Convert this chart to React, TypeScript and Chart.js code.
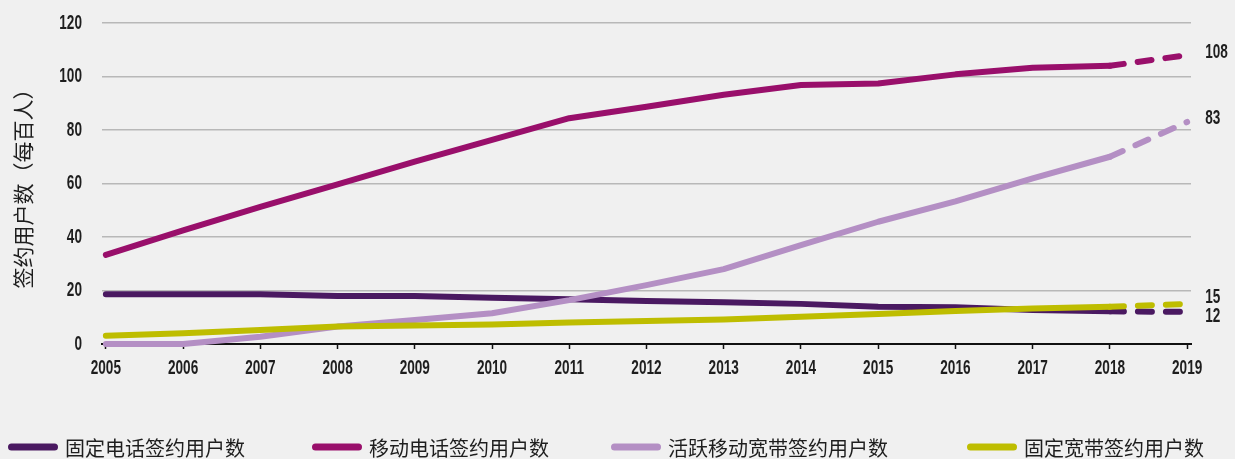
import React, { useEffect, useRef } from "react";
import { Chart, registerables } from "chart.js";

Chart.register(...registerables);

// Subscriptions per 100 inhabitants, 2005–2019 (2019 is an estimate, drawn dashed)
const years = [2005, 2006, 2007, 2008, 2009, 2010, 2011, 2012, 2013, 2014, 2015, 2016, 2017, 2018, 2019];
const fixedPhone = [18.6, 18.6, 18.6, 17.9, 17.9, 17.3, 16.7, 16.1, 15.6, 15.0, 13.9, 13.7, 12.7, 12.2, 12];
const mobilePhone = [33.3, 42.5, 51.3, 59.7, 68.2, 76.3, 84.4, 88.7, 93.2, 96.8, 97.4, 100.8, 103.3, 104, 108];
const mobileBroadband = [0, 0, 2.7, 6.5, 9.0, 11.5, 16.4, 22.0, 28.0, 37.0, 45.7, 53.3, 61.9, 70, 83];
const fixedBroadband = [3.1, 4.0, 5.2, 6.5, 6.9, 7.3, 8.0, 8.6, 9.2, 10.2, 11.2, 12.3, 13.3, 13.9, 15];

const seriesLabels = ["固定电话签约用户数", "移动电话签约用户数", "活跃移动宽带签约用户数", "固定宽带签约用户数"];
const seriesValues = [fixedPhone, mobilePhone, mobileBroadband, fixedBroadband];
const seriesColors = ["#4a1961", "#990f6b", "#b48fc4", "#bebd00"];
// lower number is painted later (on top)
const seriesOrder = [3, 2, 1, 0];

const yTickValues = [0, 20, 40, 60, 80, 100, 120];
const yAxisTitle = "签约用户数（每百人）";

// styling / placement
const NUM_FONT = "bold 20px 'Liberation Sans', Arial, sans-serif";
const SQUEEZE = 0.68; // horizontal compression for the condensed numerals
const CJK_FONT = "'Noto Sans CJK SC', 'Noto Sans', sans-serif";
const TEXT_COLOR = "#1e1e1e";
const endLabelDy = [5, -3, -3, -6];
const legendX = [8, 312, 611, 967];
const LEGEND_Y = 447;
const X_LABEL_Y = 368;
const Y_LABEL_RIGHT = 82;

function drawNumber(ctx: CanvasRenderingContext2D, text: string, x: number, y: number, align: CanvasTextAlign) {
  ctx.save();
  ctx.translate(x, y);
  ctx.scale(SQUEEZE, 1);
  ctx.font = NUM_FONT;
  ctx.fillStyle = TEXT_COLOR;
  ctx.textAlign = align;
  ctx.textBaseline = "middle";
  ctx.fillText(text, 0, 0);
  ctx.restore();
}

const backgroundPlugin = {
  id: "bg",
  beforeDraw(chart: any) {
    const { ctx, width, height } = chart;
    ctx.save();
    ctx.fillStyle = "#f0f0f0";
    ctx.fillRect(0, 0, width, height);
    ctx.restore();
  },
};

const numeralPlugin = {
  id: "numerals",
  afterDatasetsDraw(chart: any) {
    const { ctx } = chart;
    const xs = chart.scales.x;
    const ys = chart.scales.y;
    xs.ticks.forEach((t: any) => {
      drawNumber(ctx, String(t.value), xs.getPixelForValue(t.value), X_LABEL_Y, "center");
    });
    ys.ticks.forEach((t: any) => {
      drawNumber(ctx, String(t.value), Y_LABEL_RIGHT, ys.getPixelForValue(t.value), "right");
    });
    chart.data.datasets.forEach((ds: any, i: number) => {
      const meta = chart.getDatasetMeta(i);
      const last = meta.data[meta.data.length - 1];
      const value = ds.data[ds.data.length - 1].y;
      drawNumber(ctx, String(value), last.x + 18, last.y + endLabelDy[i], "left");
    });
  },
};

const legendPlugin = {
  id: "bottomLegend",
  afterDraw(chart: any) {
    const { ctx } = chart;
    ctx.save();
    ctx.textAlign = "left";
    ctx.textBaseline = "middle";
    ctx.font = `20px ${CJK_FONT}`;
    seriesLabels.forEach((label, i) => {
      const x0 = legendX[i];
      ctx.strokeStyle = seriesColors[i];
      ctx.lineWidth = 7;
      ctx.lineCap = "round";
      ctx.beginPath();
      ctx.moveTo(x0 + 3.5, LEGEND_Y);
      ctx.lineTo(x0 + 46.5, LEGEND_Y);
      ctx.stroke();
      ctx.fillStyle = TEXT_COLOR;
      ctx.fillText(label, x0 + 57, LEGEND_Y + 1);
    });
    ctx.restore();
  },
};

export default function App() {
  const canvasRef = useRef<HTMLCanvasElement | null>(null);

  useEffect(() => {
    const canvas = canvasRef.current;
    if (!canvas) return;
    const lastIdx = years.length - 1;

    const chart = new Chart(canvas, {
      type: "line",
      data: {
        datasets: seriesValues.map((vals, i) => ({
          label: seriesLabels[i],
          data: years.map((yr, k) => ({ x: yr, y: vals[k] })),
          borderColor: seriesColors[i],
          backgroundColor: seriesColors[i],
          borderWidth: 6,
          borderCapStyle: "round",
          borderJoinStyle: "round",
          pointRadius: 0,
          tension: 0,
          clip: false,
          order: seriesOrder[i],
          segment: {
            borderDash: (ctx: any) => (ctx.p1DataIndex === lastIdx ? [14, 14] : undefined),
          },
        })),
      },
      options: {
        responsive: false,
        animation: false,
        devicePixelRatio: 1,
        layout: { padding: { top: 23, right: 44, left: 0, bottom: 0 } },
        plugins: {
          legend: { display: false },
          tooltip: { enabled: false },
        },
        scales: {
          x: {
            type: "linear",
            min: 2004.95,
            max: 2019.05,
            afterBuildTicks: (s: any) => {
              s.ticks = years.map((v) => ({ value: v }));
            },
            afterFit: (s: any) => {
              s.height = 115;
            },
            ticks: { display: false, autoSkip: false, maxRotation: 0 },
            grid: {
              drawOnChartArea: false,
              drawTicks: true,
              tickLength: 5,
              tickColor: "#111111",
              tickWidth: 1.5,
            },
            border: { display: true, color: "#111111", width: 2 },
          },
          y: {
            min: 0,
            max: 120,
            afterBuildTicks: (s: any) => {
              s.ticks = yTickValues.map((v) => ({ value: v }));
            },
            afterFit: (s: any) => {
              s.width = 102;
            },
            ticks: { display: false },
            grid: { color: "#b8b8b8", lineWidth: 1.5, drawTicks: false },
            border: { display: false },
            title: {
              display: true,
              text: yAxisTitle,
              color: TEXT_COLOR,
              font: { family: CJK_FONT, size: 21 },
              padding: { top: 10, bottom: 0 },
            },
          },
        },
      },
      plugins: [backgroundPlugin, numeralPlugin, legendPlugin],
    } as any);

    return () => chart.destroy();
  }, []);

  return (
    <div style={{ position: "absolute", left: 0, top: 0, width: 1235, height: 459, background: "#f0f0f0" }}>
      <canvas ref={canvasRef} width={1235} height={459} style={{ display: "block", width: 1235, height: 459 }} />
    </div>
  );
}
